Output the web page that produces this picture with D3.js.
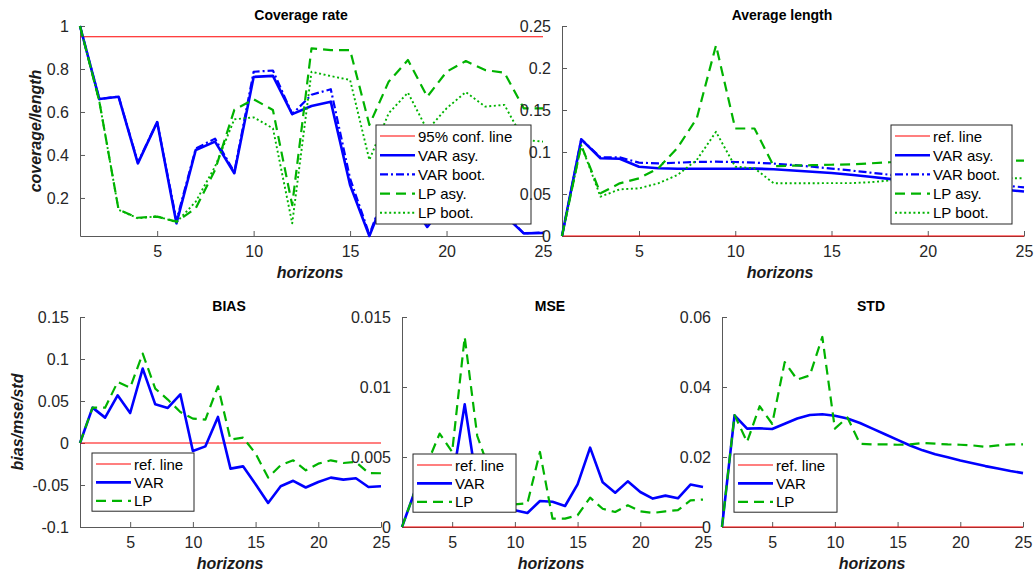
<!DOCTYPE html>
<html lang="en">
<head>
<meta charset="UTF-8">
<title>Coverage, length, bias, MSE, STD</title>
<script src="https://d3js.org/d3.v7.min.js"></script>
<style>
  body { margin: 0; background: #fff; }
  svg text { font-family: "Liberation Sans", Arial, Helvetica, sans-serif; }
  .tick text { font-size: 16px; fill: #262626; }
  .tick line, .domain { stroke: #595959; stroke-width: 1; }
  .ptitle { font-size: 14px; font-weight: bold; fill: #000; }
  .alabel { font-size: 16px; font-weight: bold; font-style: italic; fill: #1a1a1a; }
  .leg text { font-size: 15px; fill: #000; }
</style>
</head>
<body>
<svg id="fig" width="1035" height="576"></svg>
<script>
// ---- data ----
const horizons = [1, 2, 3, 4, 5, 6, 7, 8, 9, 10, 11, 12, 13, 14, 15, 16, 17, 18, 19, 20, 21, 22, 23, 24, 25];
const xTicks = [5, 10, 15, 20, 25];

// coverage rate
const covVarAsy  = [1.0, 0.66, 0.671, 0.361, 0.553, 0.082, 0.423, 0.462, 0.315, 0.763, 0.768, 0.59, 0.628, 0.648, 0.26, 0.023, 0.25, 0.2, 0.065, 0.18, 0.17, 0.15, 0.12, 0.035, 0.037];
const covVarBoot = [1.0, 0.66, 0.672, 0.365, 0.553, 0.095, 0.43, 0.476, 0.32, 0.787, 0.793, 0.59, 0.68, 0.706, 0.29, 0.03, 0.27, 0.22, 0.07, 0.2, 0.19, 0.17, 0.13, 0.035, 0.04];
const covLpAsy   = [1.0, 0.65, 0.145, 0.108, 0.113, 0.09, 0.152, 0.33, 0.61, 0.659, 0.609, 0.167, 0.896, 0.888, 0.888, 0.54, 0.741, 0.842, 0.671, 0.787, 0.837, 0.795, 0.783, 0.617, 0.617];
const covLpBoot  = [1.0, 0.65, 0.145, 0.105, 0.115, 0.087, 0.183, 0.346, 0.566, 0.575, 0.524, 0.082, 0.787, 0.767, 0.749, 0.377, 0.594, 0.69, 0.516, 0.617, 0.693, 0.625, 0.633, 0.47, 0.462];
const covTicks = [0.2, 0.4, 0.6, 0.8, 1];
const covRef = 0.95;

// average length
const lenVarAsy  = [0, 0.115, 0.0925, 0.092, 0.0825, 0.0806, 0.080, 0.080, 0.080, 0.080, 0.0802, 0.0795, 0.078, 0.0765, 0.075, 0.073, 0.0705, 0.068, 0.0655, 0.0635, 0.061, 0.059, 0.057, 0.055, 0.053];
const lenVarBoot = [0, 0.115, 0.0937, 0.0937, 0.0873, 0.0865, 0.0873, 0.0881, 0.0885, 0.0881, 0.0873, 0.0862, 0.0845, 0.0825, 0.0803, 0.078, 0.0755, 0.073, 0.0705, 0.068, 0.066, 0.064, 0.062, 0.06, 0.058];
const lenLpAsy   = [0, 0.108, 0.0508, 0.0627, 0.0687, 0.0806, 0.105, 0.14, 0.227, 0.128, 0.128, 0.083, 0.0838, 0.0843, 0.0848, 0.0853, 0.0865, 0.0878, 0.0885, 0.089, 0.0893, 0.0895, 0.0896, 0.0897, 0.0897];
const lenLpBoot  = [0, 0.108, 0.0468, 0.0556, 0.0567, 0.0627, 0.0726, 0.0905, 0.124, 0.0825, 0.0806, 0.0627, 0.0628, 0.0628, 0.063, 0.063, 0.064, 0.066, 0.0665, 0.0672, 0.0678, 0.0682, 0.0685, 0.0687, 0.0687];
const lenTicks = [0, 0.05, 0.1, 0.15, 0.2, 0.25];

// bias
const biasVar = [0, 0.0421, 0.0302, 0.0568, 0.0357, 0.0886, 0.046, 0.0417, 0.058, -0.0095, -0.004, 0.031, -0.0305, -0.0278, -0.049, -0.0714, -0.0515, -0.045, -0.053, -0.0464, -0.0412, -0.0436, -0.042, -0.0524, -0.0515];
const biasLp  = [0, 0.042, 0.042, 0.0726, 0.066, 0.1064, 0.0648, 0.0517, 0.037, 0.029, 0.0279, 0.0675, 0.004, 0.0064, -0.0126, -0.0412, -0.0265, -0.0206, -0.0325, -0.0246, -0.0206, -0.0238, -0.0226, -0.0357, -0.036];
const biasTicks = [-0.1, -0.05, 0, 0.05, 0.1, 0.15];

// mse
const mseVar = [0, 0.0025, 0.0032, 0.0038, 0.0032, 0.00876, 0.0029, 0.0024, 0.0017, 0.0012, 0.001, 0.00186, 0.0018, 0.0015, 0.00305, 0.00567, 0.0032, 0.00245, 0.00326, 0.0025, 0.00203, 0.00224, 0.00205, 0.00303, 0.00286];
const mseLp  = [0, 0.0025, 0.0045, 0.00667, 0.00536, 0.01357, 0.0065, 0.004, 0.0025, 0.00162, 0.0017, 0.00536, 0.0006, 0.0006, 0.00084, 0.0021, 0.0013, 0.00107, 0.00155, 0.00112, 0.001, 0.00112, 0.0012, 0.0019, 0.00196];
const mseTicks = [0, 0.005, 0.01, 0.015];

// std
const stdVar = [0, 0.0319, 0.0281, 0.0282, 0.028, 0.0295, 0.031, 0.032, 0.0322, 0.0318, 0.031, 0.0297, 0.0281, 0.0265, 0.0249, 0.0233, 0.0219, 0.0208, 0.0199, 0.019, 0.0182, 0.0174, 0.0167, 0.016, 0.0154];
const stdLp  = [0, 0.032, 0.0243, 0.0345, 0.0295, 0.0471, 0.0421, 0.0433, 0.0543, 0.0281, 0.0313, 0.0238, 0.0236, 0.0236, 0.0235, 0.0236, 0.024, 0.0238, 0.0236, 0.0235, 0.0233, 0.0229, 0.0233, 0.0236, 0.0236];
const stdTicks = [0, 0.02, 0.04, 0.06];

// ---- styles ----
const RED = '#ff0000', BLUE = '#0000ff', GREEN = '#00b300';
const sRef     = { color: RED,   width: 1.2, dash: null };
const sVarAsy  = { color: BLUE,  width: 2.6, dash: null };
const sVarBoot = { color: BLUE,  width: 2.2, dash: '8,3,2,3' };
const sLpAsy   = { color: GREEN, width: 2.2, dash: '10,6' };
const sLpBoot  = { color: GREEN, width: 1.9, dash: '2,2.6' };

const panels = [
  { title: 'Coverage rate', box: [80, 26, 543, 236],
    yDomain: [d3.min([covVarAsy, covVarBoot, covLpAsy, covLpBoot].flat()), 1], yTicks: covTicks,
    ref: covRef, refName: '95% conf. line',
    series: [['VAR asy.', covVarAsy, sVarAsy], ['VAR boot.', covVarBoot, sVarBoot], ['LP asy.', covLpAsy, sLpAsy], ['LP boot.', covLpBoot, sLpBoot]],
    legend: { x: 376, y: 125, w: 155, rowH: 19.2 }, titleX: 301, titleY: 20, xlabX: 310, xlabY: 278,
    ylabel: 'coverage/length', ylabX: 41 },
  { title: 'Average length', box: [562, 26, 1024, 236],
    yDomain: [0, 0.25], yTicks: lenTicks, ref: 0, refName: 'ref. line',
    series: [['VAR asy.', lenVarAsy, sVarAsy], ['VAR boot.', lenVarBoot, sVarBoot], ['LP asy.', lenLpAsy, sLpAsy], ['LP boot.', lenLpBoot, sLpBoot]],
    legend: { x: 891, y: 125, w: 121, rowH: 19.2 }, titleX: 782, titleY: 20, xlabX: 780, xlabY: 278 },
  { title: 'BIAS', box: [80, 317, 381, 527],
    yDomain: [-0.1, 0.15], yTicks: biasTicks, ref: 0, refName: 'ref. line',
    series: [['VAR', biasVar, sVarAsy], ['LP', biasLp, sLpAsy]],
    legend: { x: 92, y: 453, w: 102, rowH: 18.4 }, titleX: 229, titleY: 311, xlabX: 230, xlabY: 569,
    ylabel: 'bias/mse/std', ylabX: 23 },
  { title: 'MSE', box: [402, 317, 703, 527],
    yDomain: [0, 0.015], yTicks: mseTicks, ref: 0, refName: 'ref. line',
    series: [['VAR', mseVar, sVarAsy], ['LP', mseLp, sLpAsy]],
    legend: { x: 413, y: 454, w: 103, rowH: 18.4 }, titleX: 550, titleY: 311, xlabX: 551, xlabY: 569 },
  { title: 'STD', box: [722, 317, 1023, 527],
    yDomain: [0, 0.06], yTicks: stdTicks, ref: 0, refName: 'ref. line',
    series: [['VAR', stdVar, sVarAsy], ['LP', stdLp, sLpAsy]],
    legend: { x: 734, y: 454, w: 103, rowH: 18.4 }, titleX: 871, titleY: 311, xlabX: 872, xlabY: 569 }
];

const svg = d3.select('#fig');

function styleLine(sel, s) {
  sel.attr('fill', 'none')
    .attr('stroke', s.color)
    .attr('stroke-width', s.width)
    .attr('stroke-linejoin', 'round')
    .attr('stroke-dasharray', s.dash);
}

panels.forEach(p => {
  const [x0, y0, x1, y1] = p.box;
  const x = d3.scaleLinear().domain([horizons[0], horizons[horizons.length - 1]]).range([x0, x1]);
  const y = d3.scaleLinear().domain(p.yDomain).range([y1, y0]);
  const g = svg.append('g');

  g.append('g')
    .attr('transform', `translate(0,${y1})`)
    .call(d3.axisBottom(x).tickValues(xTicks).tickSizeInner(-5).tickSizeOuter(0).tickPadding(10).tickFormat(d => d));

  g.append('g')
    .attr('transform', `translate(${x0},0)`)
    .call(d3.axisLeft(y).tickValues(p.yTicks).tickSizeInner(-5).tickSizeOuter(0).tickPadding(11).tickFormat(d => String(d)));

  g.selectAll('.domain').attr('stroke', '#595959');

  // reference line
  g.append('path')
    .datum(horizons)
    .attr('d', d3.line().x(h => x(h)).y(() => y(p.ref)))
    .call(styleLine, sRef);

  const line = d3.line().x((d, i) => x(horizons[i])).y(d => y(d));
  p.series.forEach(([name, vals, s]) => {
    g.append('path').datum(vals).attr('d', line).call(styleLine, s);
  });

  // title & labels
  g.append('text').attr('class', 'ptitle')
    .attr('x', p.titleX).attr('y', p.titleY).attr('text-anchor', 'middle').text(p.title);
  g.append('text').attr('class', 'alabel')
    .attr('x', p.xlabX).attr('y', p.xlabY).attr('text-anchor', 'middle').text('horizons');
  if (p.ylabel) {
    g.append('text').attr('class', 'alabel')
      .attr('transform', `translate(${p.ylabX},${(y0 + y1) / 2}) rotate(-90)`)
      .attr('text-anchor', 'middle').text(p.ylabel);
  }

  // legend
  const entries = [[p.refName, sRef]].concat(p.series.map(([n, , s]) => [n, s]));
  const L = p.legend;
  const lg = g.append('g').attr('class', 'leg').attr('transform', `translate(${L.x},${L.y})`);
  const hgt = entries.length * L.rowH + 3;
  lg.append('rect').attr('x', 0).attr('y', 0).attr('width', L.w).attr('height', hgt)
    .attr('fill', '#fff').attr('stroke', '#262626').attr('stroke-width', 1);
  entries.forEach(([name, s], i) => {
    const cy = 11 + i * L.rowH;
    lg.append('line').attr('x1', 4).attr('x2', 39).attr('y1', cy).attr('y2', cy)
      .attr('stroke', s.color).attr('stroke-width', s.width).attr('stroke-dasharray', s.dash);
    lg.append('text').attr('x', 42).attr('y', cy + 5.5).text(name);
  });
});
</script>
</body>
</html>
